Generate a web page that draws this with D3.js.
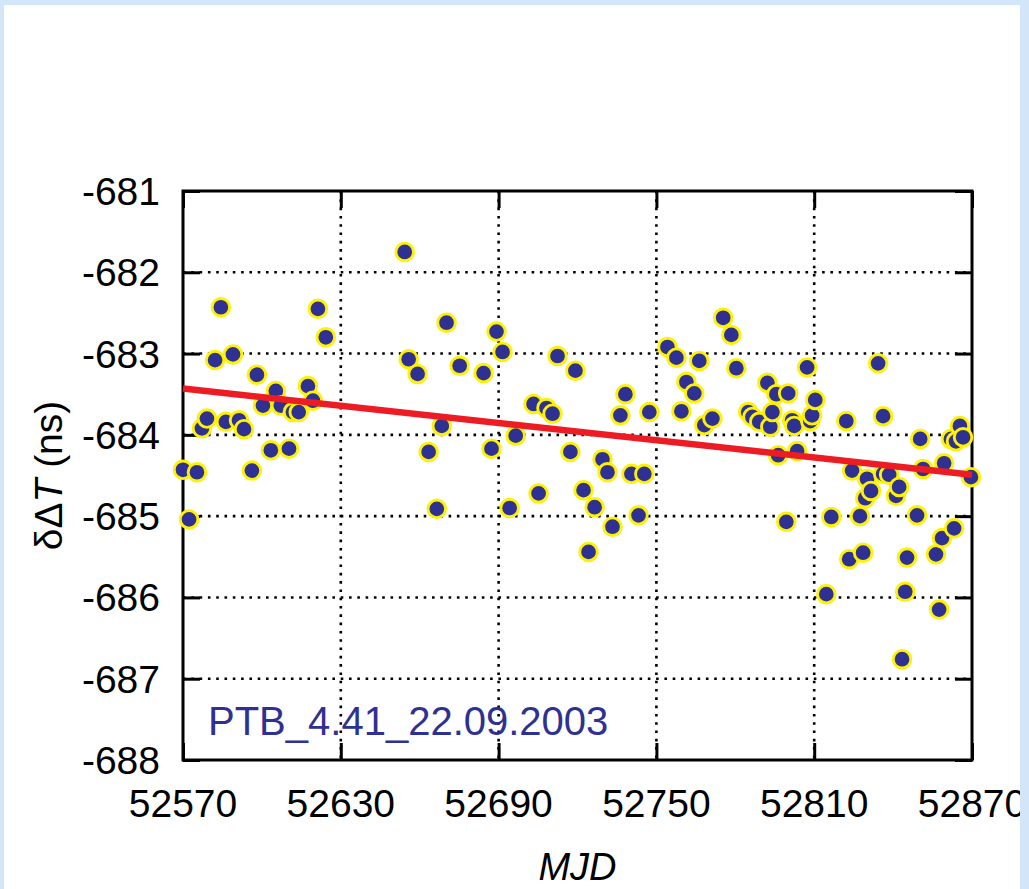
<!DOCTYPE html>
<html>
<head>
<meta charset="utf-8">
<script src="https://cdn.jsdelivr.net/npm/d3@7"></script>
<style>
  html, body { margin: 0; padding: 0; background: #d3e5f8; }
  svg { display: block; }
</style>
</head>
<body>
<svg id="chart" width="1029" height="889"></svg>
<script>
// ---- data ----
const mjd = [52570.0, 52572.3, 52575.3, 52577.2, 52579.1, 52582.2, 52584.4, 52586.3, 52589.0, 52591.3,
  52593.2, 52596.2, 52598.1, 52600.4, 52603.4, 52605.3, 52607.2, 52610.3, 52611.8, 52614.0,
  52617.5, 52619.4, 52621.3, 52624.3, 52654.3, 52655.8, 52659.2, 52663.4, 52666.5, 52668.4,
  52670.2, 52675.2, 52684.3, 52687.3, 52689.2, 52691.5, 52694.2, 52696.5, 52703.3, 52705.2,
  52708.2, 52710.5, 52712.4, 52717.3, 52719.2, 52722.3, 52724.2, 52726.5, 52729.5, 52731.4,
  52733.3, 52736.3, 52738.2, 52740.5, 52743.2, 52745.4, 52747.3, 52754.2, 52757.6, 52759.5,
  52761.4, 52764.4, 52766.3, 52768.2, 52771.3, 52775.4, 52778.5, 52780.4, 52784.9, 52786.5,
  52789.1, 52792.2, 52793.3, 52794.1, 52795.6, 52796.3, 52799.4, 52800.1, 52801.6, 52802.4,
  52803.5, 52807.3, 52808.5, 52809.2, 52810.4, 52814.6, 52816.5, 52822.2, 52823.3, 52824.4,
  52827.4, 52828.6, 52829.4, 52830.1, 52831.6, 52834.3, 52836.2, 52836.2, 52838.5, 52841.1,
  52842.3, 52843.4, 52844.6, 52845.3, 52849.1, 52850.3, 52851.4, 52856.3, 52857.5, 52858.6,
  52859.4, 52862.0, 52863.2, 52863.9, 52865.4, 52866.6, 52869.6];
const dT = [-684.43, -685.04, -684.46, -683.92, -683.80, -683.08, -682.43, -683.84, -683.01, -683.82,
  -683.93, -684.44, -683.26, -683.64, -684.19, -683.46, -683.64, -684.17, -683.72, -683.72,
  -683.40, -683.58, -682.45, -682.80, -681.75, -683.07, -683.25, -684.21, -684.91, -683.89,
  -682.62, -683.15, -683.24, -684.17, -682.73, -682.98, -684.90, -684.01, -683.62, -684.72,
  -683.67, -683.74, -683.03, -684.21, -683.21, -684.68, -685.44, -684.89, -684.30, -684.46,
  -685.13, -683.76, -683.50, -684.48, -684.99, -684.48, -683.72, -682.92, -683.05, -683.71,
  -683.35, -683.49, -683.09, -683.88, -683.80, -682.56, -682.77, -683.18, -683.72, -683.78,
  -683.84, -683.36, -683.90, -683.72, -683.50, -684.25, -685.07, -683.49, -683.82, -683.89,
  -684.20, -683.17, -683.83, -683.76, -683.57, -685.96, -685.01, -683.83, -685.53, -684.44,
  -685.00, -685.45, -684.78, -684.54, -684.69, -683.12, -683.77, -684.48, -684.49, -684.75,
  -684.64, -686.76, -685.93, -685.51, -684.99, -684.05, -684.42, -685.47, -686.15, -685.27,
  -684.35, -684.05, -685.15, -684.08, -683.89, -684.03, -684.52];
const trendX = [52570, 52870];
const trendY = [-683.43, -684.49];
const xTicks = [52570, 52630, 52690, 52750, 52810, 52870];
const yTicks = [-681, -682, -683, -684, -685, -686, -687, -688];
const stationLabel = "PTB_4.41_22.09.2003";

// ---- layout ----
const svg = d3.select("#chart");
const L = 183, R = 972, T = 191, B = 760;
const x = d3.scaleLinear().domain([52570, 52870]).range([L, R]);
const y = d3.scaleLinear().domain([-688, -681]).range([B, T]);
const font = "'Liberation Sans', Arial, Helvetica, sans-serif";

// white panel
svg.append("rect").attr("x", 4).attr("y", 5).attr("width", 1016).attr("height", 884).attr("fill", "#ffffff");

// dotted grid
const grid = svg.append("g").attr("stroke", "#000").attr("stroke-width", 2.6)
  .attr("stroke-dasharray", "2.6,5.7");
grid.selectAll("line.gx").data(xTicks.slice(1, -1)).join("line")
  .attr("x1", d => x(d)).attr("x2", d => x(d)).attr("y1", T).attr("y2", B);
grid.selectAll("line.gy").data(yTicks.slice(1, -1)).join("line")
  .attr("y1", d => y(d)).attr("y2", d => y(d)).attr("x1", L).attr("x2", R);

// axes with inward ticks (all four sides)
const tickLen = 17;
const axB = d3.axisBottom(x).tickValues(xTicks).tickSize(-tickLen).tickFormat("");
const axT = d3.axisTop(x).tickValues(xTicks).tickSize(-tickLen).tickFormat("");
const axL = d3.axisLeft(y).tickValues(yTicks).tickSize(-tickLen).tickFormat("");
const axR = d3.axisRight(y).tickValues(yTicks).tickSize(-tickLen).tickFormat("");
function styleAxis(g) {
  g.select(".domain").remove();
  g.selectAll(".tick line").attr("stroke", "#000").attr("stroke-width", 3);
}
svg.append("g").attr("transform", `translate(0,${B})`).call(axB).call(styleAxis);
svg.append("g").attr("transform", `translate(0,${T})`).call(axT).call(styleAxis);
svg.append("g").attr("transform", `translate(${L},0)`).call(axL).call(styleAxis);
svg.append("g").attr("transform", `translate(${R},0)`).call(axR).call(styleAxis);

// frame
svg.append("rect").attr("x", L).attr("y", T).attr("width", R - L).attr("height", B - T)
  .attr("fill", "none").attr("stroke", "#000").attr("stroke-width", 3);

// points
const pts = mjd.map((m, i) => ({ m, v: dT[i] }));
svg.append("g").selectAll("circle").data(pts).join("circle")
  .attr("cx", d => x(d.m)).attr("cy", d => y(d.v)).attr("r", 8.8)
  .attr("fill", "#2e3192").attr("stroke", "#fff200").attr("stroke-width", 2.9);

// trend line
svg.append("path").datum(trendX.map((t, i) => [t, trendY[i]]))
  .attr("d", d3.line().x(d => x(d[0])).y(d => y(d[1])))
  .attr("fill", "none").attr("stroke", "#ed1c24").attr("stroke-width", 6.5);

// tick labels
svg.append("g").selectAll("text").data(xTicks).join("text")
  .attr("x", d => x(d)).attr("y", 817).attr("text-anchor", "middle")
  .attr("font-family", font).attr("font-size", 39).attr("fill", "#000")
  .text(d => d);
svg.append("g").selectAll("text").data(yTicks).join("text")
  .attr("x", 160).attr("y", d => y(d)).attr("dy", "0.36em").attr("text-anchor", "end")
  .attr("font-family", font).attr("font-size", 39).attr("fill", "#000")
  .text(d => d);

// station label
svg.append("text").attr("x", 208).attr("y", 735)
  .attr("font-family", font).attr("font-size", 40).attr("fill", "#2e3192")
  .text(stationLabel);

// axis titles
svg.append("text").attr("x", (L + R) / 2).attr("y", 880).attr("text-anchor", "middle")
  .attr("font-family", font).attr("font-size", 38).attr("font-style", "italic").attr("fill", "#000")
  .text("MJD");
const yl = svg.append("text")
  .attr("transform", `translate(62,${(T + B) / 2}) rotate(-90)`)
  .attr("text-anchor", "middle")
  .attr("font-family", font).attr("font-size", 39).attr("fill", "#000");
yl.append("tspan").text("δΔ");
yl.append("tspan").attr("font-style", "italic").text("T");
yl.append("tspan").text(" (ns)");

// right background strip overlapping the panel edge
svg.append("rect").attr("x", 1020).attr("y", 0).attr("width", 9).attr("height", 889).attr("fill", "#d3e5f8");
</script>
</body>
</html>
